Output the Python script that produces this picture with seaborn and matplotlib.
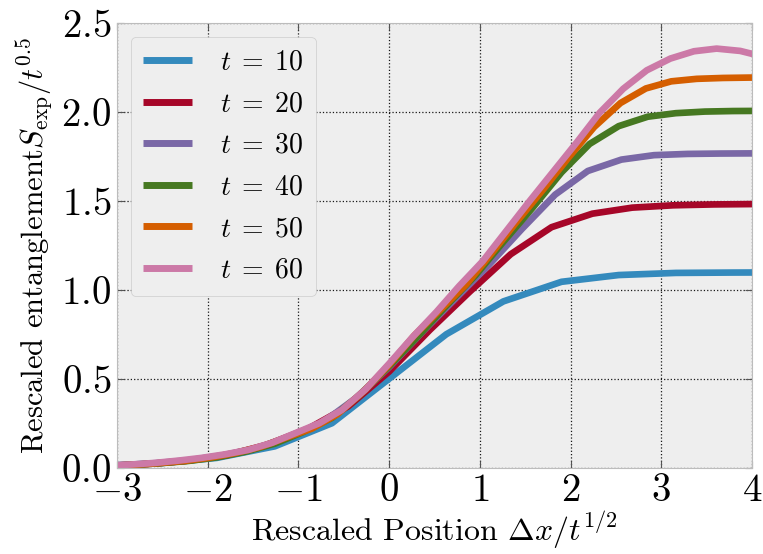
import matplotlib
matplotlib.use("Agg")
import matplotlib.pyplot as plt
import seaborn as sns
import pandas as pd

# ---- data ----
times = [10, 20, 30, 40, 50, 60]
colors = ["#348ABD", "#A60628", "#7A68A6", "#467821", "#D55E00", "#CC79A7"]

x_t10 = [-3.16, -2.53, -1.90, -1.26, -0.63, 0.0, 0.63, 1.26, 1.90, 2.53, 3.16, 3.79, 4.43]
y_t10 = [0.010, 0.025, 0.055, 0.12, 0.25, 0.50, 0.75, 0.935, 1.045, 1.083, 1.095, 1.097, 1.098]

x_t20 = [-3.13, -2.68, -2.24, -1.79, -1.34, -0.89, -0.45, 0.0, 0.45, 0.89, 1.34, 1.79, 2.24,
         2.68, 3.13, 3.58, 4.02]
y_t20 = [0.010, 0.020, 0.038, 0.070, 0.13, 0.22, 0.345, 0.54, 0.775, 0.99, 1.20, 1.352, 1.428,
         1.462, 1.475, 1.480, 1.482]

x_t30 = [-3.29, -2.92, -2.56, -2.19, -1.83, -1.46, -1.10, -0.73, -0.37, 0.0, 0.37, 0.73, 1.10,
         1.46, 1.83, 2.19, 2.56, 2.92, 3.29, 3.65, 4.02]
y_t30 = [0.008, 0.015, 0.026, 0.043, 0.07, 0.11, 0.175, 0.255, 0.39, 0.565, 0.765, 0.95, 1.14,
         1.34, 1.535, 1.668, 1.732, 1.757, 1.764, 1.766, 1.767]

x_t40 = [-3.16, -2.85, -2.53, -2.21, -1.90, -1.58, -1.26, -0.95, -0.63, -0.32, 0.0, 0.32, 0.63,
         0.95, 1.26, 1.58, 1.90, 2.21, 2.53, 2.85, 3.16, 3.48, 3.79, 4.11]
y_t40 = [0.010, 0.015, 0.025, 0.038, 0.058, 0.09, 0.135, 0.20, 0.28, 0.41, 0.57, 0.74, 0.91,
         1.08, 1.27, 1.46, 1.66, 1.82, 1.92, 1.973, 1.993, 2.002, 2.005, 2.006]

x_t50 = [-3.11, -2.83, -2.55, -2.26, -1.98, -1.70, -1.41, -1.13, -0.85, -0.57, -0.28, 0.0, 0.28,
         0.57, 0.85, 1.13, 1.41, 1.70, 1.98, 2.26, 2.55, 2.83, 3.11, 3.39, 3.68, 3.96, 4.24]
y_t50 = [0.010, 0.016, 0.025, 0.038, 0.056, 0.082, 0.118, 0.17, 0.22, 0.30, 0.43, 0.578, 0.745,
         0.89, 1.03, 1.205, 1.385, 1.565, 1.745, 1.915, 2.05, 2.132, 2.172, 2.186, 2.191, 2.193, 2.194]

x_t60 = [-3.10, -2.84, -2.58, -2.32, -2.07, -1.81, -1.55, -1.29, -1.03, -0.77, -0.52, -0.26, 0.0,
         0.26, 0.52, 0.77, 1.03, 1.29, 1.55, 1.81, 2.07, 2.32, 2.58, 2.84, 3.10, 3.36, 3.61, 3.87, 4.13]
y_t60 = [0.012, 0.018, 0.027, 0.040, 0.055, 0.075, 0.10, 0.14, 0.195, 0.25, 0.325, 0.44, 0.585,
         0.735, 0.875, 1.02, 1.16, 1.33, 1.50, 1.665, 1.83, 1.995, 2.13, 2.234, 2.30, 2.341, 2.356, 2.343, 2.31]

xs = [x_t10, x_t20, x_t30, x_t40, x_t50, x_t60]
ys = [y_t10, y_t20, y_t30, y_t40, y_t50, y_t60]

x_ticks = [-3, -2, -1, 0, 1, 2, 3, 4]
y_ticks = [0.0, 0.5, 1.0, 1.5, 2.0, 2.5]

frames = []
for t, xv, yv in zip(times, xs, ys):
    frames.append(pd.DataFrame({"x": xv, "y": yv, "t": t}))
df = pd.concat(frames, ignore_index=True)

# ---- style ----
plt.style.use("bmh")
plt.rcParams.update({
    "font.family": "serif",
    "font.serif": ["cmr10", "DejaVu Serif"],
    "mathtext.fontset": "cm",
    "axes.formatter.use_mathtext": True,
    "axes.unicode_minus": True,
})

fig = plt.figure(figsize=(7.63, 5.54), dpi=100)
ax = fig.add_axes([0.1533, 0.1558, 0.8323, 0.8027])
ax.set_facecolor("#eeeeee")

sns.lineplot(data=df, x="x", y="y", hue="t", palette=colors, linewidth=4.8,
             sort=True, errorbar=None, estimator=None, legend=False, ax=ax)

ax.set_xlim(-3, 4)
ax.set_ylim(0, 2.5)
ax.set_xticks(x_ticks)
ax.set_yticks(y_ticks)
ax.grid(True, color="black", linestyle=":", linewidth=0.9, alpha=0.9)
ax.set_axisbelow(True)
for s in ax.spines.values():
    s.set_color("#bcbcbc")
    s.set_linewidth(0.8)
ax.tick_params(axis="both", which="major", direction="in", length=5, width=0.8,
               color="#555555", labelsize=28, top=True, right=True, pad=4)

ax.set_xlabel(r"Rescaled Position $\Delta x/t^{1/2}$", fontsize=23, labelpad=1)
ax.set_ylabel(r"Rescaled entanglement$S_{\rm exp}/t^{0.5}$", fontsize=22, labelpad=4)

lines = ax.get_lines()[:len(times)]
for ln in lines:
    ln.set_solid_capstyle("butt")
labels = [rf"$t\;=\;{t}$" for t in times]
leg = ax.legend(lines, labels, loc="upper left", fontsize=20, frameon=True,
                fancybox=True, facecolor="#eeeeee", edgecolor="#cccccc",
                framealpha=1.0, handlelength=1.75, handletextpad=1.0,
                borderaxespad=0.5, labelspacing=0.55, borderpad=0.45)
for h in leg.get_lines():
    h.set_linewidth(5)
    h.set_solid_capstyle("butt")

fig.savefig("out.png", dpi=100)
